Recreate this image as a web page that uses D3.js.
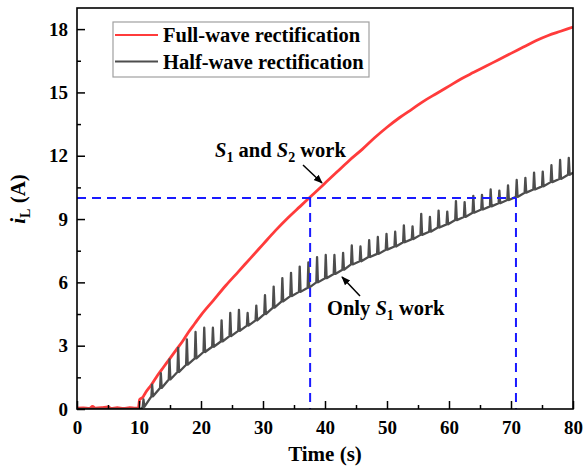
<!DOCTYPE html>
<html>
<head>
<meta charset="utf-8">
<script src="https://cdn.jsdelivr.net/npm/d3@7"></script>
<style>
  body { margin: 0; background: #fff; }
  svg { display: block; font-family: "Liberation Serif", "Times New Roman", serif; }
</style>
</head>
<body>
<svg id="chart" width="583" height="470"></svg>
<script>
// ---------- data ----------
const seriesNames = ["Full-wave rectification", "Half-wave rectification"];
const xTicks = [0, 10, 20, 30, 40, 50, 60, 70, 80];
const yTicks = [0, 3, 6, 9, 12, 15, 18];

// Full-wave rectification current (t [s], iL [A])
const fullT = [0, 1, 2, 2.5, 3, 4, 5, 5.5, 6.5, 7.5, 8.5, 9.4, 9.9, 10.1, 10.6, 11, 12, 13, 14, 15, 16, 17, 18, 19, 20,
  22, 24, 26, 28, 30, 32, 34, 36, 38, 40, 42, 44, 46, 48, 50, 52, 54, 56, 58, 60, 62, 64, 66, 68, 70, 72, 74, 76, 78, 80];
const fullI = [0.04, 0.05, 0.03, 0.12, 0.04, 0.06, 0.1, 0.03, 0.06, 0.03, 0.06, 0.04, 0.05, 0.45, 0.55, 0.75, 1.15, 1.6, 2.0, 2.4, 2.8, 3.2, 3.65, 4.05, 4.45,
  5.15, 5.85, 6.5, 7.15, 7.8, 8.45, 9.05, 9.6, 10.15, 10.7, 11.25, 11.8, 12.3, 12.85, 13.35, 13.8, 14.2, 14.6, 14.95, 15.3, 15.65, 15.95, 16.25, 16.55, 16.85, 17.15, 17.45, 17.7, 17.9, 18.1];

// Half-wave rectification: ripple spike times, band level and spike peak
const halfT = [10.6, 12.0, 13.4, 14.8, 16.2, 17.6, 19.0, 20.4, 21.8, 23.2, 24.6, 26.0, 27.4, 28.8, 30.2, 31.6, 33.0, 34.4, 35.8, 37.2,
  38.6, 40.0, 41.4, 42.8, 44.2, 45.6, 47.0, 48.4, 49.8, 51.2, 52.6, 54.0, 55.4, 56.8, 58.2, 59.6, 61.0, 62.4, 63.8, 65.2,
  66.6, 68.0, 69.4, 70.8, 72.2, 73.6, 75.0, 76.4, 77.8, 79.2];
const halfLow = [0.1, 0.6, 1.0, 1.4, 1.75, 2.1, 2.4, 2.7, 2.95, 3.2, 3.45, 3.7, 3.95, 4.2, 4.5, 4.8, 5.1, 5.35, 5.55, 5.75,
  6.0, 6.2, 6.4, 6.6, 6.85, 7.0, 7.2, 7.35, 7.55, 7.7, 7.9, 8.05, 8.25, 8.4, 8.6, 8.75, 8.95, 9.1, 9.3, 9.45,
  9.6, 9.75, 9.9, 10.05, 10.25, 10.4, 10.55, 10.75, 10.9, 11.1];
const halfPeak = [0.45, 1.15, 1.7, 2.35, 2.9, 3.3, 3.65, 3.85, 3.85, 4.2, 4.55, 4.7, 4.55, 4.9, 5.4, 5.8, 6.2, 6.45, 6.75, 6.95,
  7.2, 7.3, 7.3, 7.4, 7.75, 7.7, 8.0, 8.15, 8.3, 8.4, 8.7, 8.65, 9.25, 9.1, 9.4, 9.35, 9.85, 9.8, 10.1, 10.15,
  10.4, 10.35, 10.6, 10.85, 10.95, 11.2, 11.25, 11.55, 11.8, 11.9];
const halfStart = [[0, 0], [10.3, 0]];
const halfEnd = [80, 11.2];

// reference lines: iL = 10 A reached at these times
const refLevel = 10;
const refTimes = [37.6, 70.8];

// ---------- layout ----------
const svg = d3.select("#chart");
const m = { left: 77, top: 8, right: 573, bottom: 409 };
const x = d3.scaleLinear().domain([0, 80]).range([m.left, m.right]);
const y = d3.scaleLinear().domain([0, 19]).range([m.bottom, m.top]);

svg.append("defs").append("clipPath").attr("id", "clip")
  .append("rect").attr("x", m.left).attr("y", m.top)
  .attr("width", m.right - m.left).attr("height", m.bottom - m.top);

const plot = svg.append("g").attr("clip-path", "url(#clip)");

// half-wave trace: band with narrow spikes
const halfPts = halfStart.slice();
halfT.forEach((t, i) => {
  halfPts.push([t, halfLow[i]]);
  halfPts.push([t + 0.12, halfPeak[i]]);
  halfPts.push([t + 0.26, halfLow[i]]);
});
halfPts.push(halfEnd);

// red (full-wave)
plot.append("path")
  .datum(fullT.map((t, i) => [t, fullI[i]]))
  .attr("d", d3.line().x(d => x(d[0])).y(d => y(d[1])).curve(d3.curveMonotoneX))
  .attr("fill", "none").attr("stroke", "#ff3b3b").attr("stroke-width", 2.8)
  .attr("stroke-linejoin", "round");

// gray (half-wave)
plot.append("path")
  .datum(halfPts)
  .attr("d", d3.line().x(d => x(d[0])).y(d => y(d[1])))
  .attr("fill", "none").attr("stroke", "#4d4d4d").attr("stroke-width", 2.3)
  .attr("stroke-linejoin", "round");

// dashed reference lines
const dashStyle = sel => sel.attr("stroke", "#1a1aff").attr("stroke-width", 2)
  .attr("stroke-dasharray", "9,6").attr("fill", "none");
plot.append("line").call(dashStyle)
  .attr("x1", x(0)).attr("x2", x(d3.max(refTimes)))
  .attr("y1", y(refLevel)).attr("y2", y(refLevel));
refTimes.forEach(t => {
  plot.append("line").call(dashStyle)
    .attr("x1", x(t)).attr("x2", x(t))
    .attr("y1", y(refLevel)).attr("y2", y(0));
});

// ---------- axes ----------
const xAxis = d3.axisBottom(x).tickValues(xTicks).tickSize(-8).tickPadding(12).tickFormat(d3.format("d"));
const xMinor = d3.axisBottom(x).tickValues(d3.range(5, 80, 10)).tickSize(-4).tickFormat("");
const yAxis = d3.axisLeft(y).tickValues(yTicks).tickSize(-8).tickPadding(9).tickFormat(d3.format("d"));
const yMinor = d3.axisLeft(y).tickValues(d3.range(1.5, 19, 3)).tickSize(-4).tickFormat("");

function styleAxis(g) {
  g.select(".domain").remove();
  g.selectAll(".tick line").attr("stroke", "#000").attr("stroke-width", 1.5);
  g.selectAll("text").attr("fill", "#000").attr("font-size", 19).attr("font-weight", "bold")
    .attr("font-family", "'Liberation Serif', 'Times New Roman', serif");
}
svg.append("g").attr("transform", `translate(0,${m.bottom})`).call(xAxis).call(styleAxis);
svg.append("g").attr("transform", `translate(0,${m.bottom})`).call(xMinor).call(styleAxis);
svg.append("g").attr("transform", `translate(${m.left},0)`).call(yAxis).call(styleAxis);
svg.append("g").attr("transform", `translate(${m.left},0)`).call(yMinor).call(styleAxis);

// frame
svg.append("rect").attr("x", m.left).attr("y", m.top)
  .attr("width", m.right - m.left).attr("height", m.bottom - m.top)
  .attr("fill", "none").attr("stroke", "#000").attr("stroke-width", 1.6);

// axis titles
svg.append("text").attr("x", (m.left + m.right) / 2).attr("y", 461)
  .attr("text-anchor", "middle").attr("font-size", 21).attr("font-weight", "bold")
  .text("Time (s)");

const yt = svg.append("text").attr("transform", "translate(25,199) rotate(-90)")
  .attr("text-anchor", "middle").attr("font-size", 21).attr("font-weight", "bold");
yt.append("tspan").attr("font-style", "italic").text("i");
yt.append("tspan").attr("font-size", 14).attr("dy", 5).text("L");
yt.append("tspan").attr("dy", -5).text(" (A)");

// ---------- legend ----------
const lg = svg.append("g");
lg.append("rect").attr("x", 113).attr("y", 22).attr("width", 256).attr("height", 55)
  .attr("fill", "#fff").attr("stroke", "#a0a0a0").attr("stroke-width", 1.2);
const legendColors = ["#ff3b3b", "#4d4d4d"];
seriesNames.forEach((name, i) => {
  const yy = 35 + i * 26.5;
  lg.append("line").attr("x1", 115).attr("x2", 158).attr("y1", yy).attr("y2", yy)
    .attr("stroke", legendColors[i]).attr("stroke-width", 2);
  lg.append("text").attr("x", 163).attr("y", yy + 7).attr("font-size", 20.5).attr("font-weight", "bold")
    .text(name);
});

// ---------- annotations ----------
function subText(xp, yp, parts) {
  const t = svg.append("text").attr("x", xp).attr("y", yp).attr("font-size", 20.5).attr("font-weight", "bold");
  parts.forEach(p => {
    const s = t.append("tspan").text(p.t);
    if (p.i) s.attr("font-style", "italic");
    if (p.sub) s.attr("font-size", 14).attr("dy", 5);
    if (p.up) s.attr("dy", -5);
  });
  return t;
}
subText(215, 157, [{ t: "S", i: true }, { t: "1", sub: true }, { t: " and ", up: true }, { t: "S", i: true }, { t: "2", sub: true }, { t: " work", up: true }]);
subText(327, 315, [{ t: "Only " }, { t: "S", i: true }, { t: "1", sub: true }, { t: " work", up: true }]);

svg.append("defs").append("marker").attr("id", "arr").attr("viewBox", "0 0 10 10")
  .attr("refX", 9).attr("refY", 5).attr("markerWidth", 9).attr("markerHeight", 9)
  .attr("markerUnits", "userSpaceOnUse").attr("orient", "auto")
  .append("path").attr("d", "M0,1 L10,5 L0,9 Z").attr("fill", "#000");

svg.append("line").attr("x1", 303).attr("y1", 165).attr("x2", 322).attr("y2", 183)
  .attr("stroke", "#000").attr("stroke-width", 1.5).attr("marker-end", "url(#arr)");
svg.append("line").attr("x1", 360).attr("y1", 296).attr("x2", 342).attr("y2", 277)
  .attr("stroke", "#000").attr("stroke-width", 1.5).attr("marker-end", "url(#arr)");
</script>
</body>
</html>
